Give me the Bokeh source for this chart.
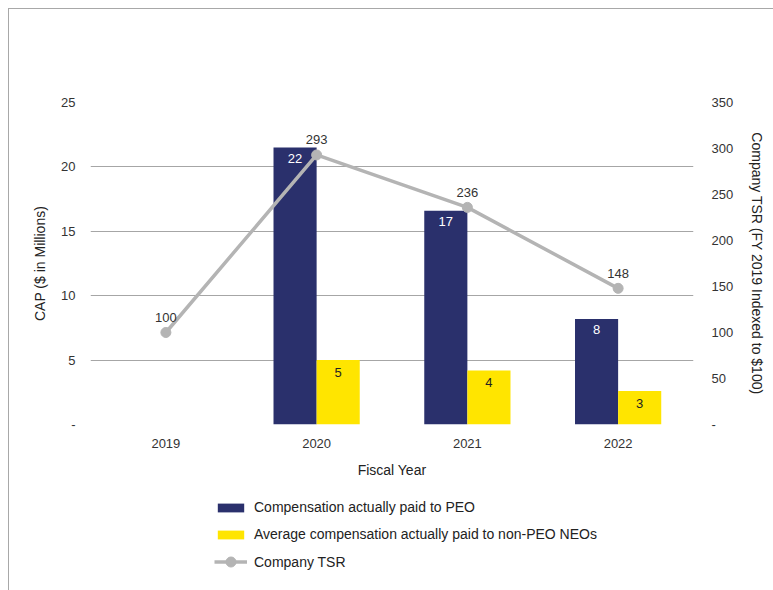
import numpy as np
import pandas as pd
from bokeh.plotting import figure
from bokeh.layouts import column
from bokeh.models import (FactorRange, Range1d, LinearAxis, FixedTicker,
                          ColumnDataSource, Legend, LegendItem)
from bokeh.transform import dodge
from bokeh.core.properties import value
from bokeh.embed import file_html
from bokeh.resources import INLINE

# ---- data ----
years = ["2019", "2020", "2021", "2022"]
peo_cap = [None, 21.5, 16.6, 8.2]       # $ millions
neo_cap = [None, 5.0, 4.2, 2.6]         # $ millions
company_tsr = [100, 293, 236, 148]      # indexed to $100
left_ticks = [0, 5, 10, 15, 20, 25]
right_ticks = [0, 50, 100, 150, 200, 250, 300, 350]
series_names = ["Compensation actually paid to PEO",
                "Average compensation actually paid to non-PEO NEOs",
                "Company TSR"]
x_title = "Fiscal Year"
y_title = "CAP ($ in Millions)"
y2_title = "Company TSR (FY 2019 Indexed to $100)"

# ---- style ----
FONT = "Liberation Sans"
NAVY = "#2A306C"
YELLOW = "#FFE500"
GRAY_LINE = "#B4B4B4"
GRID = "#A6A6A6"
TXT = "#333333"

df = pd.DataFrame({"year": years, "peo": peo_cap, "neo": neo_cap, "tsr": company_tsr})
bars = df.dropna(subset=["peo"]).copy()
bars["peo_lbl"] = bars["peo"].map(lambda v: f"{v:.0f}")
bars["neo_lbl"] = bars["neo"].map(lambda v: f"{v:.0f}")
bar_src = ColumnDataSource(bars)
line_df = df[["year", "tsr"]].copy()
line_df["tsr_lbl"] = line_df["tsr"].map(lambda v: f"{v:d}")
line_src = ColumnDataSource(line_df)

p = figure(x_range=FactorRange(*years), y_range=Range1d(0, 25),
           frame_width=603, frame_height=322,
           min_border_left=81, min_border_right=80, min_border_top=93, min_border_bottom=70,
           output_backend="svg", toolbar_location=None,
           background_fill_color="white", border_fill_color="white")
p.outline_line_color = None

p.extra_y_ranges = {"tsr": Range1d(0, 350)}

bw = 0.286
r_peo = p.vbar(x=dodge("year", -0.143, range=p.x_range), top="peo", width=bw,
               source=bar_src, color=NAVY, line_color=None)
r_neo = p.vbar(x=dodge("year", 0.143, range=p.x_range), top="neo", width=bw,
               source=bar_src, color=YELLOW, line_color=None)

p.text(x=dodge("year", -0.143, range=p.x_range), y="peo", text="peo_lbl", source=bar_src,
       text_color="white", text_font=value(FONT), text_font_size="13px",
       text_align="center", text_baseline="middle", y_offset=11)
p.text(x=dodge("year", 0.143, range=p.x_range), y="neo", text="neo_lbl", source=bar_src,
       text_color="#222222", text_font=value(FONT), text_font_size="13px",
       text_align="center", text_baseline="middle", y_offset=12)

r_line = p.line(x="year", y="tsr", source=line_src, y_range_name="tsr",
                line_color=GRAY_LINE, line_width=3.5)
r_pts = p.scatter(x="year", y="tsr", source=line_src, y_range_name="tsr",
                  size=10, fill_color=GRAY_LINE, line_color=GRAY_LINE)
p.text(x="year", y="tsr", text="tsr_lbl", source=line_src, y_range_name="tsr",
       text_color=TXT, text_font=value(FONT), text_font_size="13px",
       text_align="center", text_baseline="middle", y_offset=-15)

# axes
p.yaxis.ticker = FixedTicker(ticks=left_ticks)
p.yaxis.major_label_overrides = {0: "-"}
p.yaxis.axis_label = y_title
p.yaxis.axis_label_standoff = 10
p.yaxis.major_label_standoff = 15

p.xaxis.axis_label = x_title
p.xaxis.major_label_standoff = 14
p.xaxis.axis_label_standoff = 11

ax2 = LinearAxis(y_range_name="tsr", ticker=FixedTicker(ticks=right_ticks),
                 axis_label=y2_title, major_label_overrides={0: "-"})
ax2.axis_label_standoff = 13
ax2.major_label_standoff = 18
p.add_layout(ax2, "right")

for ax in [p.xaxis[0], p.yaxis[0], ax2]:
    ax.axis_line_color = None
    ax.major_tick_line_color = None
    ax.minor_tick_line_color = None
    ax.major_tick_out = 0
    ax.major_tick_in = 0
    ax.minor_tick_out = 0
    ax.minor_tick_in = 0
    ax.major_label_text_font = FONT
    ax.major_label_text_font_size = "13px"
    ax.major_label_text_color = TXT
    ax.axis_label_text_font = FONT
    ax.axis_label_text_font_size = "14px"
    ax.axis_label_text_font_style = "normal"
    ax.axis_label_text_color = "#222222"

p.xgrid.grid_line_color = None
p.ygrid.grid_line_color = GRID
p.ygrid.grid_line_width = 1
p.ygrid.ticker = FixedTicker(ticks=left_ticks)

# ---- legend strip below the chart (same series, drawn outside its visible range) ----
pl = figure(frame_width=764, frame_height=96, min_border=0,
            x_range=FactorRange(*years), y_range=Range1d(1000, 1001),
            x_axis_type=None, y_axis_type=None,
            output_backend="svg", toolbar_location=None,
            background_fill_color="white", border_fill_color="white")
pl.outline_line_color = None
pl.xgrid.visible = False
pl.ygrid.visible = False
lg_peo = pl.vbar(x="year", top="peo", width=bw, source=bar_src, color=NAVY, line_color=None)
lg_neo = pl.vbar(x="year", top="neo", width=bw, source=bar_src, color=YELLOW, line_color=None)
lg_line = pl.line(x="year", y="tsr", source=line_src, line_color=GRAY_LINE, line_width=3.5)
lg_pts = pl.scatter(x="year", y="tsr", source=line_src, size=10,
                    fill_color=GRAY_LINE, line_color=GRAY_LINE)

common = dict(orientation="vertical", label_height=16, label_standoff=7,
              padding=0, margin=0, label_text_font=FONT, label_text_font_size="14px",
              label_text_color="#222222", border_line_color=None, background_fill_alpha=0)

legend_bars = Legend(items=[LegendItem(label=series_names[0], renderers=[lg_peo]),
                            LegendItem(label=series_names[1], renderers=[lg_neo])],
                     location=(205, 48), glyph_width=33, glyph_height=11, spacing=11,
                     **common)
legend_line = Legend(items=[LegendItem(label=series_names[2], renderers=[lg_line, lg_pts])],
                     location=(205, 16), glyph_width=33, glyph_height=25, spacing=0,
                     **common)
pl.add_layout(legend_bars, "center")
pl.add_layout(legend_line, "center")

layout = column(p, pl, spacing=0)
layout.styles = {"margin-left": "8px", "margin-top": "8px",
                 "border-left": "1px solid #A8A8A8", "border-top": "1px solid #A8A8A8"}

open("out.html", "w").write(file_html(layout, INLINE))
